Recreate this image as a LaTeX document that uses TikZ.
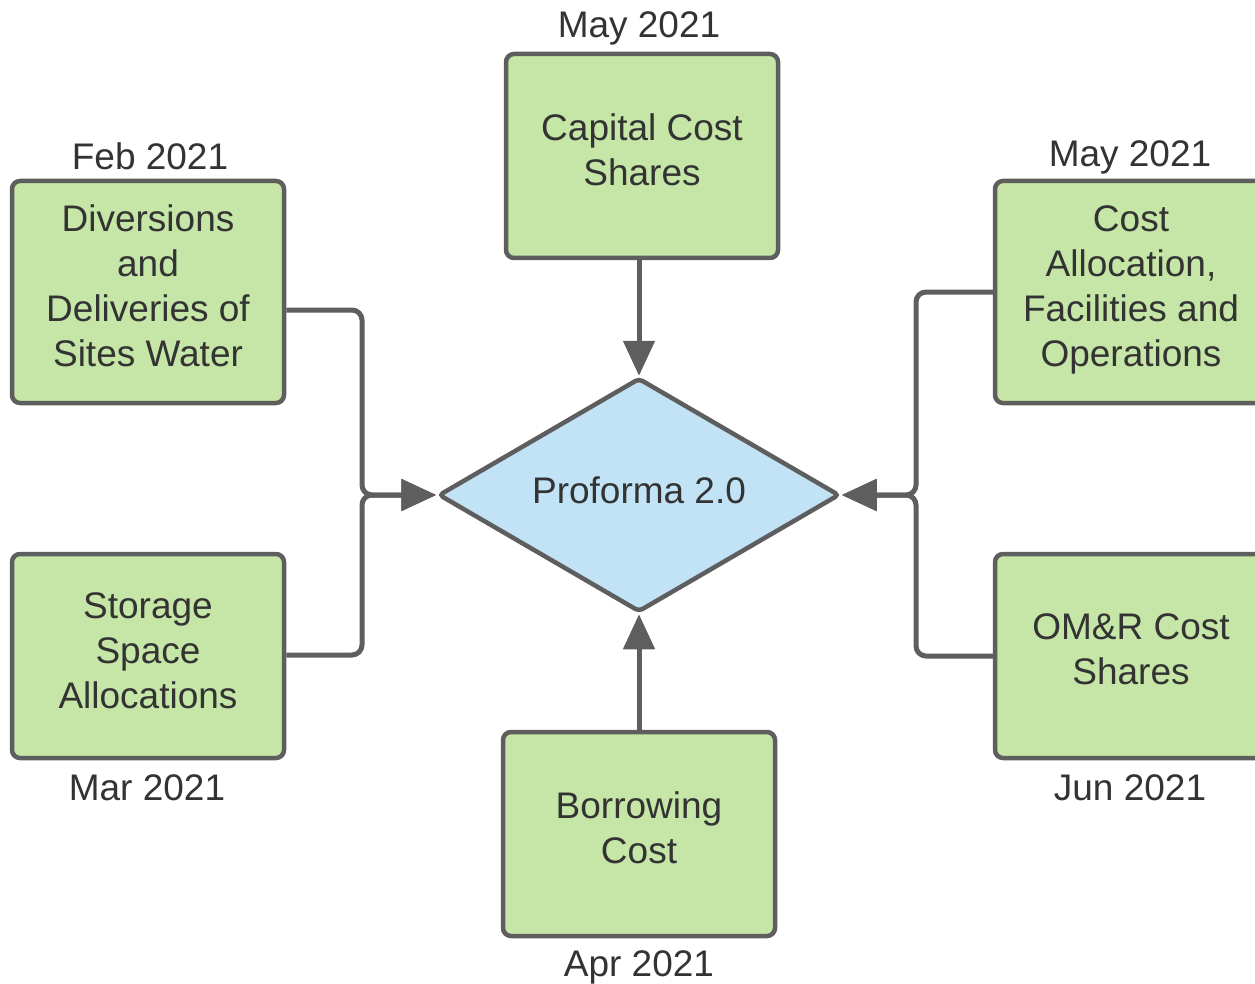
\documentclass[tikz,border=0pt]{standalone}
\usepackage{fontspec}
\setmainfont{Liberation Sans}
\usetikzlibrary{shapes.geometric,arrows.meta}
\definecolor{boxgreen}{HTML}{C5E6A7}
\definecolor{diablue}{HTML}{C1E3F5}
\definecolor{linegrey}{HTML}{5E5E5E}
\definecolor{txtgrey}{HTML}{333333}
\newcommand{\bxt}[2][2pt]{\raisebox{#1}[\height][\depth]{\setlength{\tabcolsep}{0pt}\begin{tabular}{c}#2\end{tabular}}}
\tikzset{
  stepbox/.style={draw=linegrey, line width=4.5pt, fill=boxgreen, rounded corners=8pt,
    minimum width=272pt, minimum height=204pt, inner sep=0pt,
    text=txtgrey, font=\fontsize{37}{45}\selectfont},
  datelabel/.style={text=txtgrey, font=\fontsize{37}{45}\selectfont, inner sep=0pt},
  conn/.style={draw=linegrey, line width=5pt, rounded corners=10pt,
    -{Triangle[length=35pt,width=31pt]}},
}
\begin{document}
\begin{tikzpicture}[x=1pt,y=-1pt]
\useasboundingbox (0,0) rectangle (1255,984);
\node[stepbox, minimum height=222pt] (div) at (148,292) {\bxt{Diversions\\and\\Deliveries of\\Sites Water}};
\node[stepbox] (sto) at (148,656) {\bxt{Storage\\Space\\Allocations}};
\node[stepbox] (cap) at (642,156) {\bxt{Capital Cost\\Shares}};
\node[stepbox] (bor) at (639,834) {\bxt{Borrowing\\Cost}};
\node[stepbox, minimum height=222pt] (cost) at (1131,292) {\bxt{Cost\\Allocation,\\Facilities and\\Operations}};
\node[stepbox] (om) at (1131,656) {\bxt[3pt]{OM\&R Cost\\Shares}};
\node[diamond, draw=linegrey, line width=4.5pt, fill=diablue, rounded corners=4pt,
  minimum width=401pt, minimum height=234pt, aspect=1.71, inner sep=0pt,
  text=txtgrey, font=\fontsize{37}{45}\selectfont] (prof) at (639,495) {\bxt[1pt]{Proforma 2.0}};

\node[datelabel] (l1) at (639,28) {May 2021};
\node[datelabel] (l2) at (150,156) {Feb 2021};
\node[datelabel] (l3) at (1130,157) {May 2021};
\node[datelabel] (l4) at (147,788) {Mar 2021};
\node[datelabel] (l5) at (1130,788) {Jun 2021};
\node[datelabel] (l6) at (639,967) {Apr 2021};

\coordinate (jl) at (362,495);
\coordinate (jr) at (916,495);
\draw[conn] (div.east |- 0,310) -| (jl) -- (prof.west);
\draw[conn] (sto.east |- 0,655) -| (jl) -- (prof.west);
\draw[conn] (cost.west |- 0,292) -| (jr) -- (prof.east);
\draw[conn] (om.west |- 0,656) -| (jr) -- (prof.east);
\draw[conn] (prof.north |- cap.south) -- (prof.north);
\draw[conn] (prof.south |- bor.north) -- (prof.south);
\end{tikzpicture}
\end{document}
